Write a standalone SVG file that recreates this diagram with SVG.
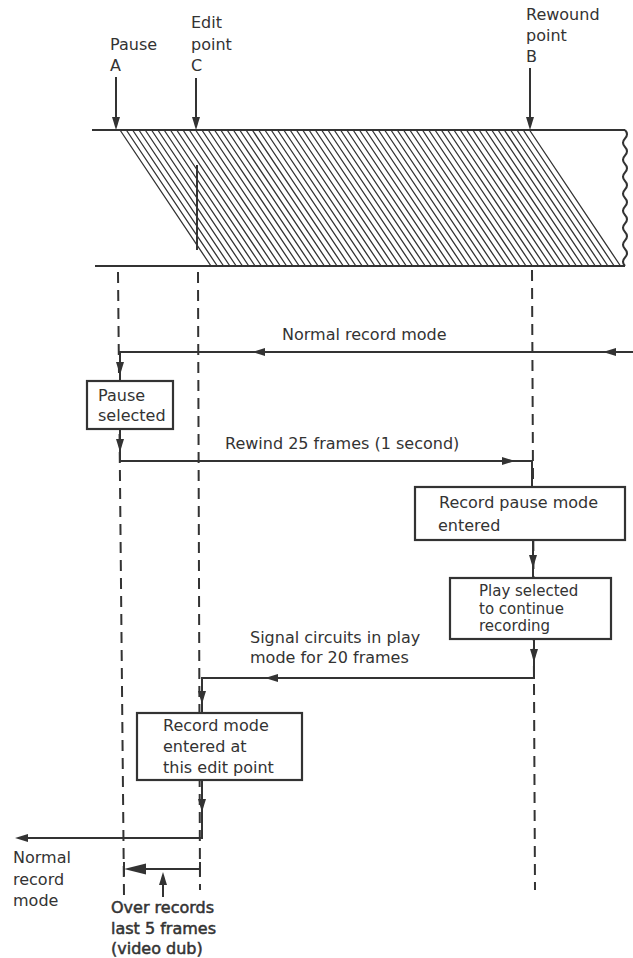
<svg xmlns="http://www.w3.org/2000/svg" xmlns:xlink="http://www.w3.org/1999/xlink" width="633" height="958" viewBox="0 0 633 958">
<style>
text{font-family:"DejaVu Sans","Liberation Sans",sans-serif;font-size:16px;fill:#333}
.ln{fill:none;stroke:#333;stroke-width:2;stroke-linejoin:miter}
.hatch{fill:none;stroke:#333;stroke-width:1.3}
.dash{fill:none;stroke:#333;stroke-width:2;stroke-dasharray:11 7}
.box{fill:#fff;stroke:#333;stroke-width:2.2}
.ah{fill:#333}
.bold{stroke:#333;stroke-width:0.5}
.tight{font-size:15px}
</style>
<defs>
<path id="ah" d="M0,0 L-13,-4 L-13,4 Z"/>
<path id="ahL" d="M0,0 L-22,-5.5 L-22,5.5 Z"/>
</defs>
<rect width="633" height="958" fill="#fff"/>

<g id="tape">
<path class="ln" d="M92,130 H625 M95,266 H625"/>
<path class="ln" d="M625,130 q4,4.25 0,8.5 t0,8.5 t0,8.5 t0,8.5 t0,8.5 t0,8.5 t0,8.5 t0,8.5 t0,8.5 t0,8.5 t0,8.5 t0,8.5 t0,8.5 t0,8.5 t0,8.5 t0,8.5"/>
<path class="hatch" d="M120,130l91,136M126.3,130l91,136M132.6,130l91,136M138.9,130l91,136M145.2,130l91,136M151.5,130l91,136M157.8,130l91,136M164.1,130l91,136M170.4,130l91,136M176.7,130l91,136M183,130l91,136M189.3,130l91,136M195.6,130l91,136M201.9,130l91,136M208.2,130l91,136M214.5,130l91,136M220.8,130l91,136M227.1,130l91,136M233.4,130l91,136M239.7,130l91,136M246,130l91,136M252.3,130l91,136M258.6,130l91,136M264.9,130l91,136M271.2,130l91,136M277.5,130l91,136M283.8,130l91,136M290.1,130l91,136M296.4,130l91,136M302.7,130l91,136M309,130l91,136M315.3,130l91,136M321.6,130l91,136M327.9,130l91,136M334.2,130l91,136M340.5,130l91,136M346.8,130l91,136M353.1,130l91,136M359.4,130l91,136M365.7,130l91,136M372,130l91,136M378.3,130l91,136M384.6,130l91,136M390.9,130l91,136M397.2,130l91,136M403.5,130l91,136M409.8,130l91,136M416.1,130l91,136M422.4,130l91,136M428.7,130l91,136M435,130l91,136M441.3,130l91,136M447.6,130l91,136M453.9,130l91,136M460.2,130l91,136M466.5,130l91,136M472.8,130l91,136M479.1,130l91,136M485.4,130l91,136M491.7,130l91,136M498,130l91,136M504.3,130l91,136M510.6,130l91,136M516.9,130l91,136M523.2,130l91,136M529.5,130l91,136"/>
<path class="ln" d="M197,165 V250"/>
</g>

<g id="markers">
<g id="label-A">
<text x="110" y="50">Pause</text>
<text x="110" y="71">A</text>
<path class="ln" d="M116,77 V124"/>
<use href="#ah" class="ah" transform="translate(116,130) rotate(90)"/>
</g>
<g id="label-C">
<text x="191" y="28">Edit</text>
<text x="191" y="50">point</text>
<text x="191" y="71">C</text>
<path class="ln" d="M196,78 V124"/>
<use href="#ah" class="ah" transform="translate(196,130) rotate(90)"/>
</g>
<g id="label-B">
<text x="526" y="20">Rewound</text>
<text x="526" y="41">point</text>
<text x="526" y="62">B</text>
<path class="ln" d="M530,68 V124"/>
<use href="#ah" class="ah" transform="translate(530,130) rotate(90)"/>
</g>
</g>

<g id="guides">
<path class="dash" d="M118,272 L124,895"/>
<path class="dash" d="M198,272 L200,890"/>
<path class="dash" d="M532,270 L535,890"/>
</g>

<g id="connectors">
<path class="ln" d="M633,352 H120 V381"/>
<use href="#ah" class="ah" transform="translate(603,352) rotate(180)"/>
<use href="#ah" class="ah" transform="translate(252,352) rotate(180)"/>
<use href="#ah" class="ah" transform="translate(120,375) rotate(90)"/>
<path class="ln" d="M120,429 V461 H532 V487"/>
<use href="#ah" class="ah" transform="translate(120,452) rotate(90)"/>
<use href="#ah" class="ah" transform="translate(515,461)"/>
<path class="ln" d="M533,540 V578"/>
<use href="#ah" class="ah" transform="translate(533,568) rotate(90)"/>
<path class="ln" d="M534,639 V678 H202 V713"/>
<use href="#ah" class="ah" transform="translate(534,662) rotate(90)"/>
<use href="#ah" class="ah" transform="translate(265,678) rotate(180)"/>
<use href="#ah" class="ah" transform="translate(202,704) rotate(90)"/>
<path class="ln" d="M202,780 V838 H20"/>
<use href="#ah" class="ah" transform="translate(202,812) rotate(90)"/>
<use href="#ah" class="ah" transform="translate(15,838) rotate(180)"/>
<path class="ln" d="M130,869 H200 M124,862 V876 M200,862 V876 M163,897 V878"/>
<use href="#ahL" class="ah" transform="translate(124,869) rotate(180)"/>
<use href="#ah" class="ah" transform="translate(163,872) rotate(-90)"/>
</g>

<g id="labels">
<text x="282" y="340">Normal record mode</text>
<text x="225" y="449">Rewind 25 frames (1 second)</text>
<text x="250" y="643">Signal circuits in play</text>
<text x="250" y="663">mode for 20 frames</text>
<text x="13" y="863">Normal</text>
<text x="13" y="885">record</text>
<text x="13" y="906">mode</text>
<text class="bold" x="111" y="913">Over records</text>
<text class="bold" x="111" y="934">last 5 frames</text>
<text class="bold" x="111" y="954">(video dub)</text>
</g>

<g id="node-pause-selected">
<rect class="box" x="87" y="381" width="86" height="48"/>
<text x="98" y="401">Pause</text>
<text x="98" y="421">selected</text>
</g>

<g id="node-record-pause">
<rect class="box" x="415" y="487" width="210" height="53"/>
<text x="439" y="508">Record pause mode</text>
<text x="438" y="531">entered</text>
</g>

<g id="node-play-selected">
<rect class="box" x="450" y="578" width="161" height="61"/>
<text class="tight" x="479" y="596">Play selected</text>
<text class="tight" x="479" y="614">to continue</text>
<text class="tight" x="479" y="631">recording</text>
</g>

<g id="node-record-mode">
<rect class="box" x="137" y="713" width="165" height="67"/>
<text x="163" y="731">Record mode</text>
<text x="163" y="752">entered at</text>
<text x="163" y="773">this edit point</text>
</g>
</svg>
